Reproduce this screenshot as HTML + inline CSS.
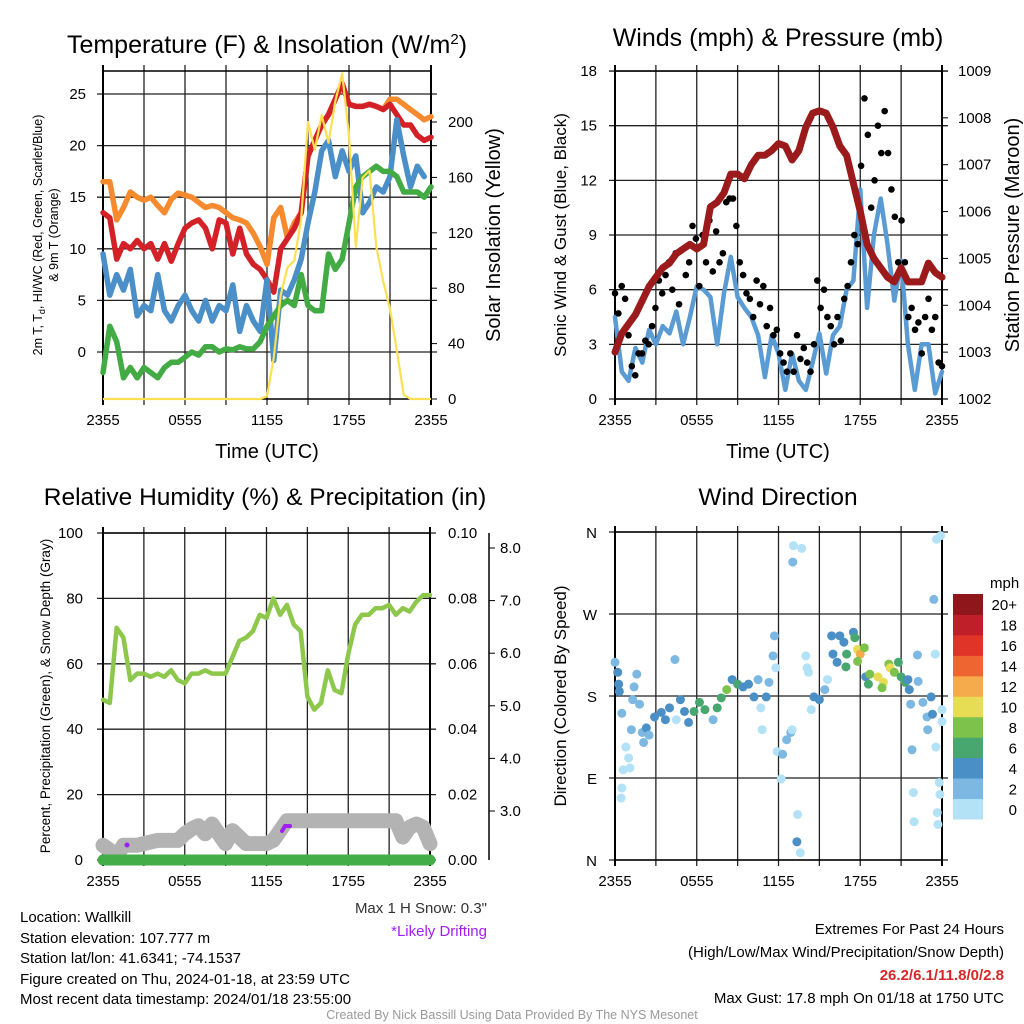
<!DOCTYPE html>
<html><head><meta charset="utf-8"><style>
html,body{margin:0;padding:0;background:#fff;}
svg{display:block;font-family:"Liberation Sans",sans-serif;}
</style></head><body>
<svg id="s" width="1024" height="1024" viewBox="0 0 1024 1024" xmlns="http://www.w3.org/2000/svg">
<rect width="1024" height="1024" fill="#fff"/>
<text x="267" y="53" font-size="25" text-anchor="middle">Temperature (F) &amp; Insolation (W/m<tspan dy="-9" font-size="15">2</tspan><tspan dy="9">)</tspan></text>
<text x="778" y="46" font-size="25" text-anchor="middle">Winds (mph) &amp; Pressure (mb)</text>
<text x="265" y="505" font-size="24.5" text-anchor="middle">Relative Humidity (%) &amp; Precipitation (in)</text>
<text x="778" y="505" font-size="24.5" text-anchor="middle">Wind Direction</text>
<text x="267" y="458" font-size="20" text-anchor="middle">Time (UTC)</text>
<text x="778" y="458" font-size="20" text-anchor="middle">Time (UTC)</text>
<text transform="translate(42,235) rotate(-90)" font-size="12.5" text-anchor="middle">2m T, T<tspan dy="3" font-size="9">d</tspan><tspan dy="-3">, HI/WC (Red, Green, Scarlet/Blue)</tspan></text>
<text transform="translate(58,235) rotate(-90)" font-size="12.5" text-anchor="middle">&amp; 9m T (Orange)</text>
<text transform="translate(500,235) rotate(-90)" font-size="20" text-anchor="middle">Solar Insolation (Yellow)</text>
<text transform="translate(566,235) rotate(-90)" font-size="17" text-anchor="middle">Sonic Wind &amp; Gust (Blue, Black)</text>
<text transform="translate(1019,235) rotate(-90)" font-size="20" text-anchor="middle">Station Pressure (Maroon)</text>
<text transform="translate(50,696) rotate(-90)" font-size="13.5" text-anchor="middle">Percent, Precipitation (Green), &amp; Snow Depth (Gray)</text>
<text transform="translate(566,696) rotate(-90)" font-size="17" text-anchor="middle">Direction (Colored By Speed)</text>
<g font-size="15">
<text x="20" y="922">Location: Wallkill</text>
<text x="20" y="943">Station elevation: 107.777 m</text>
<text x="20" y="963">Station lat/lon: 41.6341; -74.1537</text>
<text x="20" y="984">Figure created on Thu, 2024-01-18, at 23:59 UTC</text>
<text x="20" y="1004">Most recent data timestamp: 2024/01/18 23:55:00</text>
</g>
<text x="487" y="913" font-size="15" text-anchor="end" fill="#333">Max 1 H Snow: 0.3"</text>
<text x="487" y="936" font-size="15" text-anchor="end" fill="#a020f0">*Likely Drifting</text>
<g font-size="15" text-anchor="end">
<text x="1004" y="934">Extremes For Past 24 Hours</text>
<text x="1004" y="957">(High/Low/Max Wind/Precipitation/Snow Depth)</text>
<text x="1004" y="980" fill="#d62728" font-weight="bold">26.2/6.1/11.8/0/2.8</text>
<text x="1004" y="1003">Max Gust: 17.8 mph On 01/18 at 1750 UTC</text>
</g>
<text x="512" y="1019" font-size="12.5" text-anchor="middle" fill="#999">Created By Nick Bassill Using Data Provided By The NYS Mesonet</text>
</svg>
<script>
// ---- Temperature panel data (half-hourly, 2355 -> 2355) ----
const tempRed=[13.5,13,9,10.5,10,10.8,10,10.5,9,10.5,8.8,10.5,12,12.5,12.8,12,10,12.8,12.5,9.5,12,9.5,8.5,8,7,5.8,10,11,12,13.5,19,20.5,22,23,24.5,26,24,23.8,23.8,24,23.8,23.5,24,23,22,22,21,20.5,20.8];
const tempOrange=[16.5,16.5,12.8,14,15.5,15,14.7,15,14.2,13.5,14.8,15.4,15.2,15,14.5,14,14.2,14,13.5,13,12.8,12.5,11.5,10.2,8.5,13,14,11,12.5,13.5,19,20.5,22,23,24.5,26,24,23.8,23.8,24,23.8,23.5,24.5,24.5,24,23.5,23,22.5,22.8];
const tempBlue=[9.5,5.5,7.5,6,8,3.5,4.5,4,7.5,4,3,4.5,5.5,4,3,5,3,4.5,4,6.5,2,4.5,3,2,7,-0.8,6,5.5,7,9,12.5,15.5,19.5,20.5,17,19.5,17.5,19,13.5,14.5,16,15.5,17,22.5,19,16,18,17,null];
const tempGreen=[-2,2.5,1,-2.5,-1.5,-2.5,-1.5,-2,-2.5,-1.5,-1,-1,-0.5,0,-0.3,0.5,0.5,0,0.3,0.2,0.5,0.3,0.3,1,2.5,3.5,4.5,5,4.5,7.5,4.5,4,4,9.5,8,9,12.5,16,17,17.5,18,17.5,17.5,17,15.5,15.5,15.5,15,16];
const insolation=[0,0,0,0,0,0,0,0,0,0,0,0,0,0,0,0,0,0,0,0,0,0,0,0,2,30,75,95,100,130,200,180,205,185,215,235,190,110,160,165,110,85,65,35,3,0,0,0,0];
const tempTicks=[0,5,10,15,20,25];
const solarTicks=[0,40,80,120,160,200];
const timeLabels=["2355","0555","1155","1755","2355"];
// ---- Wind panel data ----
const windSpeed=[4.5,1.5,1,2.8,2,3.8,3,4,3.6,4.8,3,4.5,6.2,6,5.6,3,5.8,7.8,5.6,5,4.5,3.5,1.2,3.5,2.5,0.5,2.5,1,0.5,2,3.6,1.4,3.5,4,6,6.5,11.5,5,9,11,8.5,5.4,7.6,3,0.5,3,3,0.3,1.5];
const windGust=[5.8,4.7,6.2,5.5,3.5,1.8,1.3,2.5, 2.5,3.2,3,4,5,6.5,5.8,6.8,7.5,6.0, 8,5.2,8.2,6.8,7.5,9.5,8.8,6.2,9,7.5, 9.8,7,9.2,7.5,8,10.8,11,11,9.5,7.5, 6.8,5.8,5.5,4.5,6.5,5.2,6.2,4,5,3.5, 3.8,2.5,2,1.5,2.5,1.5,3.5,2.2,2.8,2, 1.5,3,6.5,5,6,4.5,4,3,4.5,3.2, 5.5,6.2,7.5,9,8.5,12.8,16.5,14.5,10.5,12, 15,13.5,15.8,13.5,11.5,10,7.5,9.8,7.5,4.5, 5,3.8,4.2,2.5,4.5,5.5,3.8,4.5,2,1.8];
const pressure=[1003.0,1003.4,1003.6,1003.8,1004.1,1004.4,1004.6,1004.8,1004.9,1005.1,1005.2,1005.3,1005.2,1005.3,1006.1,1006.2,1006.4,1006.8,1006.8,1006.7,1007.0,1007.2,1007.2,1007.3,1007.45,1007.4,1007.1,1007.3,1007.8,1008.1,1008.15,1008.1,1007.8,1007.4,1007.2,1006.6,1006.0,1005.3,1005.0,1004.8,1004.6,1004.5,1004.8,1004.5,1004.5,1004.5,1004.9,1004.7,1004.6];
const windTicks=[0,3,6,9,12,15,18];
const pressureTicks=[1002,1003,1004,1005,1006,1007,1008,1009];
// ---- RH panel data ----
const relHum=[49,48,71,68,55,57,57,56,57,56,58,55,54,57,57,58,57,57,57,62,67,68,70,75,74,80,75,78,72,70,50,46,48,58,52,51,63,72,75,75,77,77,78,75,77,76,79,81,81];
const snowDepth=[4.5,3,1,4.5,4.5,4.5,5,5.5,6,6,6,6,8,9.5,10.5,8,11,8,5,9,7,5,5,5,5,6,9,12,12,12,12,12,12,12,12,12,12,12,12,12,12,12,12,12,7,10,11,10,5];
const precip=[0,0,0,0,0,0,0,0,0,0,0,0,0,0,0,0,0,0,0,0,0,0,0,0,0,0,0,0,0,0,0,0,0,0,0,0,0,0,0,0,0,0,0,0,0,0,0,0,0];
const rhTicks=[0,20,40,60,80,100];
const precipTicks=["0.00","0.02","0.04","0.06","0.08","0.10"];
const snowTicks=[3.0,4.0,5.0,6.0,7.0,8.0];
// ---- Wind direction data (hour since 2355, degrees, mph) ----
const dirHour=[0,0.2,0.27,0.32,0.5,0.8,1.0,0.6,0.5,0.45,1.1,1.2,1.4,1.6,1.3,1.8,2.0,2.1,2.3,2.5,2.9,3.4,3.7,4.0,4.4,4.5,4.8,5.1,5.4,5.8,6.2,6.6,7.2,7.5,7.8,8.2,8.6,9.0,9.4,9.8,10.2,10.5,10.8,10.7,11.1,11.3,11.6,11.7,11.8,11.9,12.3,12.2,12.6,12.9,13.0,13.1,13.05,13.7,13.4,13.35,13.6,14,14.1,14.2,14.4,14.6,15,15.4,15.6,15.9,16.0,16.3,16.5,16.8,17,16.95,17.5,17.6,17.8,18,18.3,17.8,18.4,18.7,18.6,19.3,19.7,19.6,20.1,20.2,20.5,20.8,21.0,21.3,21.5,21.6,21.7,21.8,21.9,21.95,22.2,22.25,22.6,22.9,22.95,23.2,23.3,23.4,23.5,23.55,23.6,23.9,23.8,23.85,23.65,23.7,24,24];
const dirDeg=[217,206,193,185,161,124,112,99,79,68,101,143,190,204,176,171,140,129,145,137,157,162,154,167,220,154,176,163,151,163,173,165,154,167,178,187,198,193,190,193,179,198,143,167,179,195,224,246,211,119,116,89,132,140,143,345,327,342,50,20,8,224,211,206,165,179,176,187,198,246,226,217,246,239,226,212,250,244,231,226,233,218,201,204,193,201,195,189,215,211,206,217,201,195,198,187,171,121,74,42,225,196,173,157,143,179,160,286,226,124,352,356,85,72,52,39,152,165];
const dirSpeed=[3,4.5,4.5,4.5,2.5,1,1,1,1,1,1,2,2,2,2,2,3,3.5,4,2,4,4,4,4,2,1,4,4,4,6,6,6,2,6,6,8,4,6,4,4,4,2,1,1,4,3,3,2,1,1,2,1,2,2,1,1,3,1,1,4,1,1,1,1,1,4,4,3,1,4,4,4,4,4,6,6,4,6,10,13,8,8,4,8,6,10,10,8,8,10,8,6,6,6,4,4,2,2,1,1,3,2,2,2,2,4,4,3,1,1,1,1,1,1,1,1,1,1];
const speedBins=["0","2","4","6","8","10","12","14","16","18","20+"];
const binColors=["#b3e2f7","#7db8e2","#4a8fc6","#48a66f","#7dc24a","#e6dd55","#f5aa4b","#ef6531","#e03429","#be1f28","#8f171b"];
const dirLabels=["N","E","S","W","N"];

const svg=document.getElementById('s');
const NS='http://www.w3.org/2000/svg';
function mk(tag,attrs,parent){const e=document.createElementNS(NS,tag);for(const k in attrs)e.setAttribute(k,attrs[k]);(parent||svg).appendChild(e);return e;}
function txt(x,y,s,attrs,parent){const e=mk('text',Object.assign({x:x,y:y,'font-size':15},attrs||{}),parent);e.textContent=s;return e;}
function linPath(arr,xf,yf){let d='',pen=false;arr.forEach((v,i)=>{if(v===null||v===undefined){pen=false;return;}d+=(pen?'L':'M')+xf(i).toFixed(1)+' '+yf(v).toFixed(1);pen=true;});return d;}

function frame(x0,x1,y0,y1,hgrid,name){
  const g=mk('g',{});
  
  
  for(let k=0;k<=8;k++){const x=x0+(x1-x0)*k/8;mk('line',{x1:x,y1:y0-6,x2:x,y2:y1+6,stroke:'#222','stroke-width':1.3},g);}
  hgrid.forEach(y=>mk('line',{x1:x0-6,y1:y,x2:x1+6,y2:y,stroke:'#222','stroke-width':1.3},g));
  mk('line',{x1:x0,y1:y0,x2:x1,y2:y0,stroke:'#000','stroke-width':1.5},g);
  mk('line',{x1:x0,y1:y1,x2:x1,y2:y1,stroke:'#000','stroke-width':1.5},g);
  mk('line',{x1:x0,y1:y0-6,x2:x0,y2:y1+6,stroke:'#000','stroke-width':2},g);
  mk('line',{x1:x1,y1:y0-6,x2:x1,y2:y1+6,stroke:'#000','stroke-width':2},g);
  timeLabels.forEach((s,k)=>{const t=txt(x0+(x1-x0)*k/4,y1+26,s,{'text-anchor':'middle'});
    
    });
}

// ===== Temperature panel =====
(function(){
  const x0=103,x1=431,y0=71,y1=399;
  const X=i=>x0+(x1-x0)*i/48;
  const Y=v=>352-v*10.32;
  const YS=v=>399-v*1.385;
  frame(x0,x1,y0,y1,tempTicks.map(Y),'temperature');
  tempTicks.forEach(v=>{const t=txt(86,Y(v)+5,String(v),{'text-anchor':'end'});
    
    });
  solarTicks.forEach(v=>{mk('line',{x1:x1,y1:YS(v),x2:x1+6,y2:YS(v),stroke:'#000'});
    const t=txt(448,YS(v)+5,String(v));
    
    });
  const series=[[tempOrange,'#f58a2e','orange-9m-temp'],[tempRed,'#d42027','red-2m-temp'],[tempBlue,'#4a8fc7','blue-windchill'],[tempGreen,'#42ab44','green-dewpoint']];
  series.forEach(s=>{const p=mk('path',{d:linPath(s[0],X,Y),fill:'none',stroke:s[1],'stroke-width':5.5,'stroke-linejoin':'round','stroke-linecap':'round'});
    
    });
  const py=mk('path',{d:linPath(insolation,X,YS),fill:'none',stroke:'#fde052','stroke-width':2.2,'stroke-linejoin':'round'});
  
  
})();

// ===== Wind panel =====
(function(){
  const x0=615,x1=942,y0=71,y1=399;
  const X=i=>x0+(x1-x0)*i/48;
  const Y=v=>399-v*18.22;
  const YP=v=>399-(v-1002)*46.86;
  frame(x0,x1,y0,y1,windTicks.map(Y),'wind');
  windTicks.forEach(v=>{const t=txt(597,Y(v)+5,String(v),{'text-anchor':'end'});
    
    });
  pressureTicks.forEach(v=>{mk('line',{x1:x1,y1:YP(v),x2:x1+6,y2:YP(v),stroke:'#000'});
    const t=txt(958,YP(v)+5,String(v));
    
    });
  const pb=mk('path',{d:linPath(windSpeed,X,Y),fill:'none',stroke:'#5a9bd3','stroke-width':4.5,'stroke-linejoin':'round','stroke-linecap':'round'});
  
  
  const g=mk('g',{});
  
  
  windGust.forEach((v,k)=>{const c=mk('circle',{cx:x0+(x1-x0)*k/97,cy:Y(v),r:3.3,fill:'#000'},g);
    
    });
  const pp=mk('path',{d:linPath(pressure,X,YP),fill:'none',stroke:'#9b1a1c','stroke-width':7,'stroke-linejoin':'round','stroke-linecap':'round'});
  
  
})();

// ===== RH panel =====
(function(){
  const x0=103,x1=430,y0=533,y1=860;
  const X=i=>x0+(x1-x0)*i/48;
  const Y=v=>860-v*3.27;
  frame(x0,x1,y0,y1,rhTicks.map(Y),'humidity');
  rhTicks.forEach(v=>{const t=txt(83,Y(v)+5,String(v),{'text-anchor':'end'});
    
    });
  precipTicks.forEach((s,k)=>{const t=txt(448,Y(rhTicks[k])+5,s);
    
    });
  mk('line',{x1:489,y1:533,x2:489,y2:860,stroke:'#000','stroke-width':1.5});
  snowTicks.forEach(v=>{const y=811-(v-3)*52.6;mk('line',{x1:489,y1:y,x2:495,y2:y,stroke:'#000'});
    const t=txt(500,y+5,v.toFixed(1));
    
    });
  const ps=mk('path',{d:linPath(snowDepth,X,Y),fill:'none',stroke:'#b3b3b3','stroke-width':15,'stroke-linejoin':'round','stroke-linecap':'round'});
  
  
  const pr=mk('path',{d:linPath(precip,X,Y),fill:'none',stroke:'#43ad47','stroke-width':11,'stroke-linecap':'round'});
  
  
  const ph=mk('path',{d:linPath(relHum,X,Y),fill:'none',stroke:'#8dc84d','stroke-width':4.5,'stroke-linejoin':'round','stroke-linecap':'round'});
  
  
  const d1=mk('circle',{cx:127,cy:845,r:2.5,fill:'#a020f0'});
  
  
  const d2=mk('path',{d:'M282 831 L285 826 L290 826',fill:'none',stroke:'#a020f0','stroke-width':4,'stroke-linecap':'round'});
  
  
})();

// ===== Wind direction panel =====
(function(){
  const x0=615,x1=942,y0=532,y1=860;
  const X=h=>x0+(x1-x0)*h/24;
  const Y=d=>860-d*(y1-y0)/360;
  frame(x0,x1,y0,y1,[0,90,180,270,360].map(Y),'wind-direction');
  dirLabels.forEach((s,k)=>{const t=txt(597,Y(k*90)+6,s,{'text-anchor':'end'});
    
    });
  const g=mk('g',{});
  
  
  dirDeg.forEach((d,i)=>{const b=Math.min(10,Math.floor(dirSpeed[i]/2));
    const c=mk('circle',{cx:X(dirHour[i]),cy:Y(d),r:4.5,fill:binColors[b]},g);
    
    });
  const cb=mk('g',{});
  
  
  const h=(819-594)/11;
  speedBins.forEach((s,k)=>{const y=819-(k+1)*h;
    const r=mk('rect',{x:953,y:y,width:30,height:h+0.5,fill:binColors[k]},cb);
    
    
    const t=txt(1017,y+h/2+6,s,{'text-anchor':'end'},cb);
    
    });
  const u=txt(990,588,'mph');
  
  
})();
</script>
</body></html>
